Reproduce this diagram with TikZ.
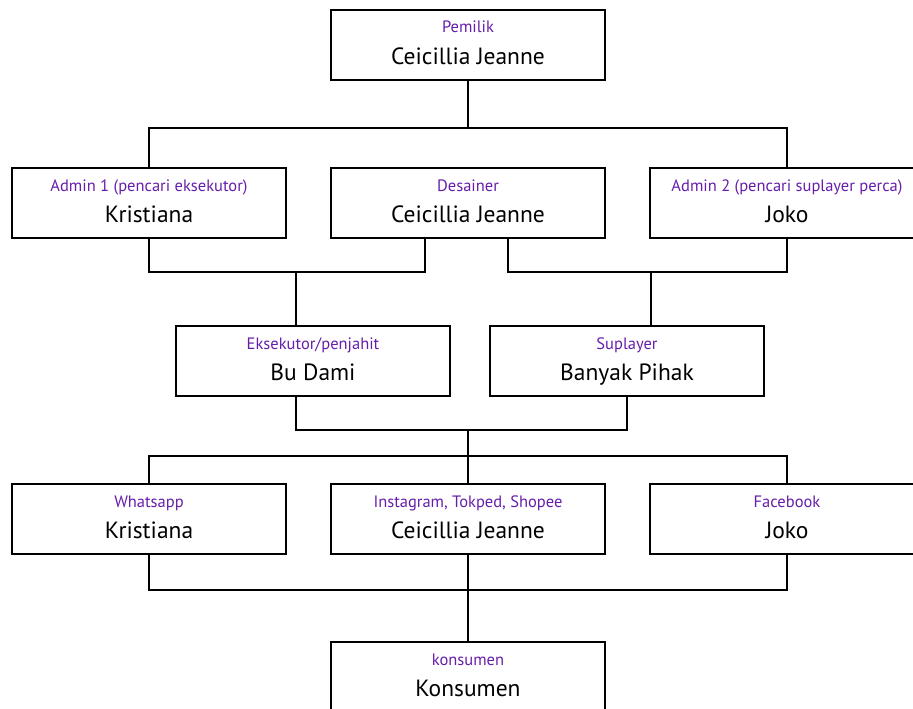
\documentclass[tikz,border=0pt]{standalone}
\usepackage{fontspec}
\setmainfont{PT Sans}
\usetikzlibrary{positioning}
\definecolor{rolec}{RGB}{102,30,170}
% box with role (purple) and person name
\newcommand{\orgbox}[4]{%
  \node[box] (#1) at (#2) {};
  \node[role] (#1-r) at ([yshift=12pt]#1.center) {#3};
  \node[person] (#1-n) at ([yshift=-19pt]#1.center) {#4};}

\begin{document}
\begin{tikzpicture}[x=1pt,y=-1pt,
  box/.style={draw,line width=1.5pt,minimum width=274pt,minimum height=70pt,inner sep=0pt},
  role/.style={anchor=base,inner sep=0pt,text=rolec,font=\fontsize{16.5}{18}\selectfont},
  person/.style={anchor=base,inner sep=0pt,font=\fontsize{23.5}{26}\selectfont},
  conn/.style={line width=1.5pt}]
  \useasboundingbox (0,0) rectangle (913,709);
  % level 0
  \orgbox{own}{468,45}{Pemilik}{Ceicillia Jeanne}
  % level 1
  \orgbox{adm1}{149,203}{Admin 1 (pencari eksekutor)}{Kristiana}
  \orgbox{des}{468,203}{Desainer}{Ceicillia Jeanne}
  \orgbox{adm2}{787,203}{Admin 2 (pencari suplayer perca)}{Joko}
  % level 2
  \orgbox{eks}{313,361}{Eksekutor/penjahit}{Bu Dami}
  \orgbox{sup}{627,361}{Suplayer}{Banyak Pihak}
  % level 3
  \orgbox{wa}{149,519}{Whatsapp}{Kristiana}
  \orgbox{ig}{468,519}{Instagram, Tokped, Shopee}{Ceicillia Jeanne}
  \orgbox{fb}{787,519}{Facebook}{Joko}
  % level 4
  \orgbox{kon}{468,677}{konsumen}{Konsumen}

  \coordinate (bus1) at (468,128);
  \coordinate (j1) at (296,272);
  \coordinate (j2) at (651,272);
  \coordinate (j3) at (468,430);
  \coordinate (bus2) at (468,456);
  \coordinate (bus3) at (468,590);

  \draw[conn] (own) -- (bus1);
  \draw[conn] (adm1.north) |- (bus1) -| (adm2.north);
  \draw[conn] (adm1.south) |- (j1) -| ([xshift=-43pt]des.south);
  \draw[conn] (j1) -- (j1 |- eks.north);
  \draw[conn] ([xshift=40pt]des.south) |- (j2) -| (adm2.south);
  \draw[conn] (j2) -- (j2 |- sup.north);
  \draw[conn] (j1 |- eks.south) |- (j3) -| (sup.south);
  \draw[conn] (j3) -- (bus2);
  \draw[conn] (wa.north) |- (bus2) -| (fb.north);
  \draw[conn] (bus2) -- (ig.north);
  \draw[conn] (wa.south) |- (bus3) -| (fb.south);
  \draw[conn] (ig.south) -- (kon.north);
\end{tikzpicture}
\end{document}
